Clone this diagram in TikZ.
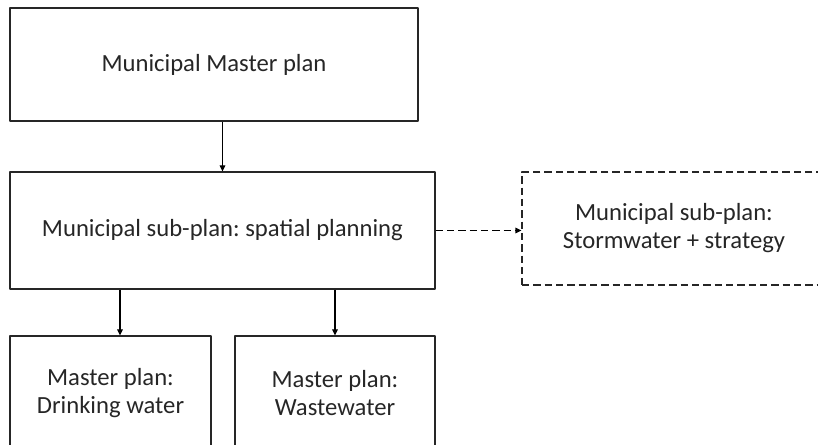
\documentclass[tikz,border=0pt]{standalone}
\usepackage{fontspec}
\setmainfont{Carlito}
\frenchspacing
\usetikzlibrary{arrows.meta}
\begin{document}
\begin{tikzpicture}[x=0.75pt, y=-0.75pt, line width=0.9pt, line join=round,
    font=\fontsize{18.5}{21}\selectfont, >={Triangle[length=4.5pt,width=4.2pt]},
    plan/.style={draw=black!85, align=center, inner sep=0pt, text=black!85},
    subplan/.style={plan, dashed, dash pattern=on 5.5pt off 3pt}]
    \clip (0,0) rectangle (818,445);
    \node[plan, minimum width=408*0.75pt, minimum height=113*0.75pt] (master) at (214,64.5) {Municipal Master plan};
    \node[plan, minimum width=425*0.75pt, minimum height=117*0.75pt] (spatial) at (222.5,230.5) {Municipal sub-plan: spatial planning};
    \node[subplan, minimum width=304*0.75pt, minimum height=113*0.75pt] (storm) at (674,228.5) {Municipal sub-plan:\\Stormwater + strategy};
    \node[plan, minimum width=201*0.75pt, minimum height=114*0.75pt] (drink) at (110.5,393) {Master plan:\\Drinking water};
    \node[plan, minimum width=200*0.75pt, minimum height=114*0.75pt] (waste) at (335,393) {Master plan:\\Wastewater};
    \coordinate (drinkin) at ([xshift=9.5*0.75pt]drink.north);
    \draw[->] (master.south -| spatial.north) -- (spatial.north);
    \draw[->, dash pattern=on 5.5pt off 3pt] (spatial.east) -- (spatial.east -| storm.west);
    \draw[->] (drinkin |- spatial.south) -- (drinkin);
    \draw[->] (waste.north |- spatial.south) -- (waste.north);
\end{tikzpicture}
\end{document}
